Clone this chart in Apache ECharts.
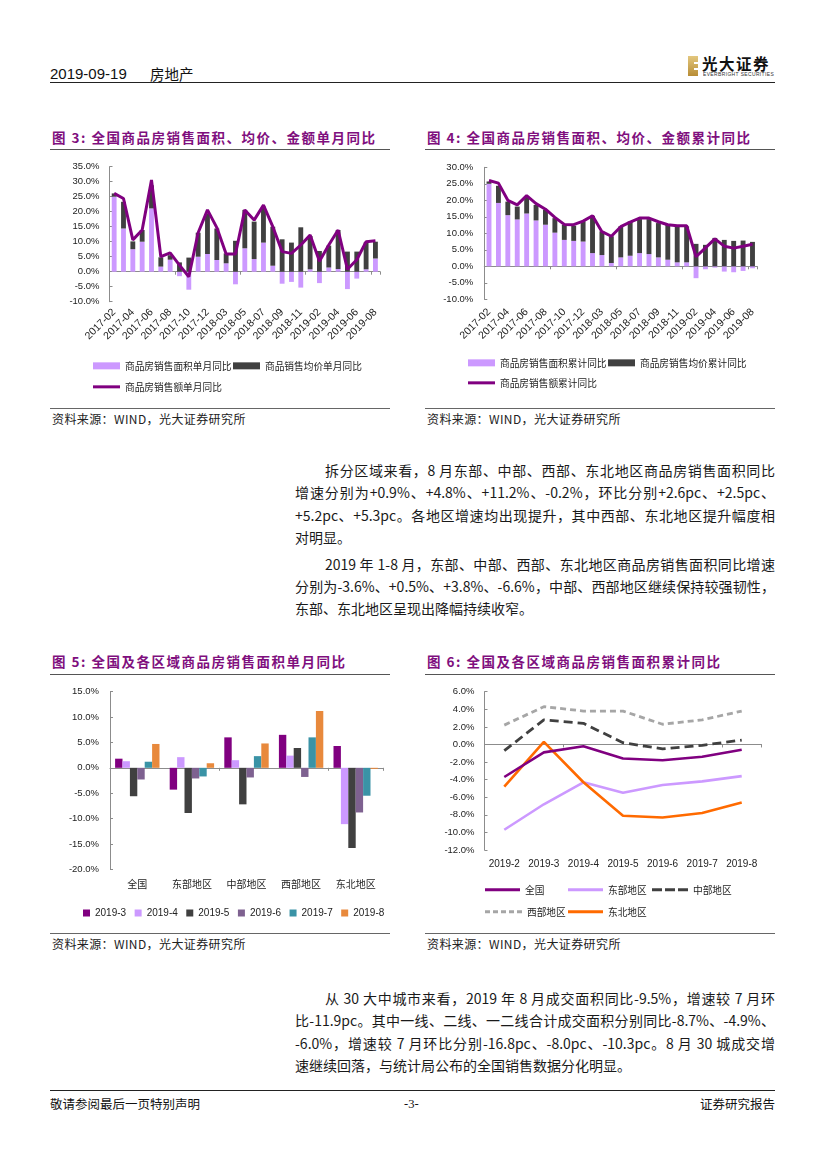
<!DOCTYPE html>
<html><head><meta charset="utf-8">
<script src="https://cdn.jsdelivr.net/npm/echarts@6/dist/echarts.min.js"></script>
<style>
body{margin:0;background:#fff;}
#page{position:relative;width:827px;height:1169px;overflow:hidden;font-family:"Noto Sans CJK SC",sans-serif;color:#111;background:#fff;}
.hl{position:absolute;height:0;}
.title{position:absolute;font-weight:bold;color:#7f0f7e;font-size:13.5px;letter-spacing:1.5px;white-space:nowrap;line-height:18px;}
.src{position:absolute;font-size:12px;color:#222;white-space:nowrap;line-height:16px;letter-spacing:0.4px;}
.ln{position:absolute;left:295px;width:480px;font-size:14px;white-space:nowrap;text-align:justify;text-align-last:justify;line-height:22px;height:22px;color:#1a1a1a;}
.ln.ind{left:325px;width:450px;}
.ln.last{text-align-last:left;}
.chart{position:absolute;}
.txt{position:absolute;white-space:nowrap;}
</style></head>
<body><div id="page">
<!-- header -->
<div class="txt" style="left:50px;top:65px;font-family:'Liberation Sans';font-size:15px;line-height:18px;color:#111;">2019-09-19</div>
<div class="txt" style="left:150px;top:65px;font-size:14.5px;line-height:18px;color:#111;">房地产</div>
<div style="position:absolute;left:688px;top:56px;width:10px;height:20px;background:linear-gradient(180deg,#e3c77e,#b88d36);"></div>
<div style="position:absolute;left:694px;top:62px;width:4px;height:2px;background:#fff;"></div>
<div style="position:absolute;left:694px;top:68px;width:4px;height:2px;background:#fff;"></div>
<div class="txt" style="left:702px;top:54px;font-size:15.5px;font-weight:bold;line-height:18px;letter-spacing:1.5px;color:#111;">光大证券</div>
<div class="txt" style="left:703px;top:72px;font-family:'Liberation Sans';font-size:8px;line-height:8px;transform:scale(0.62);transform-origin:0 0;letter-spacing:0.6px;color:#333;">EVERBRIGHT SECURITIES</div>
<div class="hl" style="left:50px;top:82px;width:725px;border-top:1.6px solid #222;"></div>

<!-- figure titles row 1 -->
<div class="title" style="left:52px;top:128px;">图 3: 全国商品房销售面积、均价、金额单月同比</div>
<div class="title" style="left:427px;top:128px;">图 4: 全国商品房销售面积、均价、金额累计同比</div>
<div class="hl" style="left:50px;top:149px;width:340px;border-top:1.5px solid #555;"></div>
<div class="hl" style="left:425px;top:149px;width:350px;border-top:1.5px solid #555;"></div>
<div id="c3" class="chart" style="left:50px;top:150px;width:340px;height:256px;"></div>
<div id="c4" class="chart" style="left:420px;top:150px;width:380px;height:256px;"></div>
<div class="hl" style="left:50px;top:408px;width:340px;border-top:1px solid #666;"></div>
<div class="hl" style="left:425px;top:408px;width:350px;border-top:1px solid #666;"></div>
<div class="src" style="left:52px;top:411px;">资料来源：WIND，光大证券研究所</div>
<div class="src" style="left:427px;top:411px;">资料来源：WIND，光大证券研究所</div>

<!-- paragraphs -->
<div class="ln ind" style="top:459px;">拆分区域来看，8 月东部、中部、西部、东北地区商品房销售面积同比</div>
<div class="ln" style="top:481px;">增速分别为+0.9%、+4.8%、+11.2%、-0.2%，环比分别+2.6pc、+2.5pc、</div>
<div class="ln" style="top:503.5px;">+5.2pc、+5.3pc。各地区增速均出现提升，其中西部、东北地区提升幅度相</div>
<div class="ln last" style="top:526px;">对明显。</div>
<div class="ln ind" style="top:553px;">2019 年 1-8 月，东部、中部、西部、东北地区商品房销售面积同比增速</div>
<div class="ln" style="top:575px;">分别为-3.6%、+0.5%、+3.8%、-6.6%，中部、西部地区继续保持较强韧性，</div>
<div class="ln last" style="top:596.5px;">东部、东北地区呈现出降幅持续收窄。</div>

<!-- figure titles row 2 -->
<div class="title" style="left:52px;top:652px;">图 5: 全国及各区域商品房销售面积单月同比</div>
<div class="title" style="left:427px;top:652px;">图 6: 全国及各区域商品房销售面积累计同比</div>
<div class="hl" style="left:50px;top:674px;width:340px;border-top:1.5px solid #555;"></div>
<div class="hl" style="left:425px;top:674px;width:350px;border-top:1.5px solid #555;"></div>
<div id="c5" class="chart" style="left:50px;top:675px;width:340px;height:256px;"></div>
<div id="c6" class="chart" style="left:420px;top:675px;width:380px;height:256px;"></div>
<div class="hl" style="left:50px;top:933px;width:340px;border-top:1px solid #666;"></div>
<div class="hl" style="left:425px;top:933px;width:350px;border-top:1px solid #666;"></div>
<div class="src" style="left:52px;top:936px;">资料来源：WIND，光大证券研究所</div>
<div class="src" style="left:427px;top:936px;">资料来源：WIND，光大证券研究所</div>

<div class="ln ind" style="top:987px;">从 30 大中城市来看，2019 年 8 月成交面积同比-9.5%，增速较 7 月环</div>
<div class="ln" style="top:1009px;">比-11.9pc。其中一线、二线、一二线合计成交面积分别同比-8.7%、-4.9%、</div>
<div class="ln" style="top:1032px;">-6.0%，增速较 7 月环比分别-16.8pc、-8.0pc、-10.3pc。8 月 30 城成交增</div>
<div class="ln last" style="top:1054px;">速继续回落，与统计局公布的全国销售数据分化明显。</div>

<!-- footer -->
<div class="hl" style="left:50px;top:1090px;width:725px;border-top:1.2px solid #222;"></div>
<div class="txt" style="left:50px;top:1096px;font-size:12.5px;line-height:16px;color:#111;">敬请参阅最后一页特别声明</div>
<div class="txt" style="left:404px;top:1096px;font-family:'Liberation Serif';font-size:12.5px;line-height:16px;color:#111;">-3-</div>
<div class="txt" style="left:700px;top:1096px;font-size:12.5px;line-height:16px;color:#111;">证券研究报告</div>
</div>
<script>
// ---------- data ----------
const monthCats = ['2017-02','2017-03','2017-04','2017-05','2017-06','2017-07','2017-08','2017-09','2017-10','2017-11','2017-12',
  '2018-02','2018-03','2018-04','2018-05','2018-06','2018-07','2018-08','2018-09','2018-10','2018-11','2018-12',
  '2019-02','2019-03','2019-04','2019-05','2019-06','2019-07','2019-08'];
// Fig 3: monthly YoY (%)
const areaMonthly   = [25.0,14.4,7.5,10.0,21.1,1.7,4.0,-1.5,-6.0,5.0,5.9,3.9,2.8,-4.2,7.8,4.2,9.7,2.0,-4.0,-3.4,-5.3,0.8,-3.8,1.4,0.9,-5.8,-2.3,0.8,4.4];
const priceMonthly  = [1.1,8.9,2.6,3.9,7.7,3.1,1.5,3.1,4.7,8.0,13.5,10.5,3.3,10.3,12.8,12.5,12.0,13.0,10.8,9.7,14.8,11.1,6.9,7.3,13.0,6.7,6.7,9.0,5.6];
const amountMonthly = [26.1,24.4,10.6,13.9,30.6,5.0,6.3,2.2,-1.7,13.0,20.6,14.7,5.9,5.9,20.6,17.2,22.2,15.0,6.7,6.1,8.9,12.2,3.5,8.9,13.9,0.8,4.0,10.0,10.3];
// Fig 4: cumulative YoY (%)
const areaCum   = [25.0,19.2,15.5,14.2,16.0,13.9,12.6,10.2,8.0,7.7,7.5,4.0,3.4,1.0,2.7,3.2,4.0,3.7,2.7,2.0,1.2,1.2,-3.6,-0.9,-0.4,-1.6,-1.8,-1.4,-0.6];
const priceCum  = [0.7,5.2,4.1,3.9,5.1,4.7,4.5,4.4,4.6,4.6,6.1,11.3,7.2,8.1,9.4,10.4,10.3,10.6,10.4,10.6,10.9,10.9,6.8,6.5,8.6,8.0,7.7,7.8,7.4];
const amountCum = [26.0,25.2,20.0,18.6,21.4,19.0,17.3,14.8,12.7,12.6,13.7,15.3,10.5,9.1,12.0,13.4,14.6,14.6,13.5,12.6,12.3,12.3,2.9,5.6,8.3,6.1,5.5,6.1,6.7];
// Fig 5: regional monthly YoY (%)
const regions = ['全国','东部地区','中部地区','西部地区','东北地区'];
const fig5Months = ['2019-3','2019-4','2019-5','2019-6','2019-7','2019-8'];
const fig5Values = [
  [1.8,-4.3,6.0,6.5,4.3],
  [1.3,2.1,1.5,2.4,-11.1],
  [-5.6,-8.9,-7.2,3.9,-15.8],
  [-2.3,-2.1,-1.9,-1.8,-8.8],
  [1.2,-1.7,2.3,6.0,-5.5],
  [4.7,0.9,4.8,11.2,-0.2]
];
// Fig 6: regional cumulative YoY (%)
const fig6Months = ['2019-2','2019-3','2019-4','2019-5','2019-6','2019-7','2019-8'];
const natCum   = [-3.7,-0.9,-0.2,-1.6,-1.8,-1.4,-0.6];
const eastCum  = [-9.7,-6.8,-4.3,-5.5,-4.6,-4.2,-3.6];
const midCum   = [-0.7,2.8,2.4,0.2,-0.5,-0.1,0.5];
const westCum  = [2.2,4.3,3.8,3.8,2.3,2.8,3.8];
const neCum    = [-4.8,0.3,-4.3,-8.1,-8.3,-7.8,-6.6];

// ---------- styles ----------
const AX = '#8c8c8c';
const LBL = '#222';
const PURPLE = '#800080', LILAC = '#CC99FF', DARK = '#404040';
const fig5Colors = ['#800080','#CC99FF','#404040','#7e6190','#3a93a6','#e8893c'];

function yAx(min,max,interval,fs,margin){
  return {type:'value',min,max,interval,
    axisLine:{show:true,lineStyle:{color:AX,width:1}},
    axisTick:{show:true,inside:true,length:3,lineStyle:{color:AX}},
    splitLine:{show:false},
    axisLabel:{formatter:v=>v.toFixed(1)+'%',color:LBL,fontFamily:'Liberation Sans',fontSize:fs,margin:margin}};
}
function xAxes(cats,label){
  return [
    {type:'category',data:cats,position:'bottom',axisLine:{show:false,onZero:false},axisTick:{show:false},axisLabel:label},
    {type:'category',data:cats,axisLine:{show:true,onZero:true,lineStyle:{color:AX,width:1}},
     axisTick:{show:true,inside:true,length:3,lineStyle:{color:AX}},axisLabel:{show:false}}
  ];
}
function leg(name,left,top,w,h,icon){
  return {data:[{name:name,icon:icon}],left:left,top:top,padding:0,itemWidth:w,itemHeight:h,selectedMode:false,
    itemStyle:{borderWidth:0},textStyle:{fontFamily:'Noto Sans CJK SC',fontSize:9.7,color:LBL}};
}

// ---------- Fig 3 ----------
const c3 = echarts.init(document.getElementById('c3'));
c3.setOption({
  animation:false,
  grid:{left:59.5,top:16.7,width:270.6,height:135},
  xAxis:xAxes(monthCats,{interval:1,rotate:45,fontFamily:'Liberation Sans',fontSize:10.5,color:LBL,margin:9}),
  yAxis:yAx(-10,35,5,9.5,10),
  legend:[
    leg('商品房销售面积单月同比',43,211,27,7,'rect'),
    leg('商品销售均价单月同比',183,211,27,7,'rect'),
    leg('商品房销售额单月同比',43,232,27,3,'rect')
  ],
  series:[
    {name:'商品房销售面积单月同比',type:'bar',stack:'s',data:areaMonthly,barWidth:'52%',itemStyle:{color:LILAC}},
    {name:'商品销售均价单月同比',type:'bar',stack:'s',data:priceMonthly,barWidth:'52%',itemStyle:{color:DARK}},
    {name:'商品房销售额单月同比',type:'line',data:amountMonthly,symbol:'none',lineStyle:{color:PURPLE,width:3},itemStyle:{color:PURPLE},z:5}
  ]
});

// ---------- Fig 4 ----------
const c4 = echarts.init(document.getElementById('c4'));
c4.setOption({
  animation:false,
  grid:{left:64.3,top:17.3,width:272.9,height:132},
  xAxis:xAxes(monthCats,{interval:1,rotate:45,fontFamily:'Liberation Sans',fontSize:10.5,color:LBL,margin:11}),
  yAxis:yAx(-10,30,5,9.5,11),
  legend:[
    leg('商品房销售面积累计同比',48,208,27,7,'rect'),
    leg('商品房销售均价累计同比',188,208,27,7,'rect'),
    leg('商品房销售额累计同比',48,228,27,3,'rect')
  ],
  series:[
    {name:'商品房销售面积累计同比',type:'bar',stack:'s',data:areaCum,barWidth:'52%',itemStyle:{color:LILAC}},
    {name:'商品房销售均价累计同比',type:'bar',stack:'s',data:priceCum,barWidth:'52%',itemStyle:{color:DARK}},
    {name:'商品房销售额累计同比',type:'line',data:amountCum,symbol:'none',lineStyle:{color:PURPLE,width:3},itemStyle:{color:PURPLE},z:5}
  ]
});

// ---------- Fig 5 ----------
const c5 = echarts.init(document.getElementById('c5'));
c5.setOption({
  animation:false,
  grid:{left:60,top:16.7,width:273,height:177.6},
  xAxis:xAxes(regions,{interval:0,fontFamily:'Noto Sans CJK SC',fontSize:10,color:LBL,margin:10}),
  yAxis:yAx(-20,15,5,9.5,11),
  legend:{data:fig5Months.map(m=>({name:m,icon:'rect'})),left:33,top:233,padding:0,itemWidth:7,itemHeight:7,itemGap:8.5,
    selectedMode:false,itemStyle:{borderWidth:0},textStyle:{fontFamily:'Liberation Sans',fontSize:10,color:LBL}},
  series:fig5Months.map((m,i)=>({name:m,type:'bar',data:fig5Values[i],barWidth:7.4,barGap:'0%',itemStyle:{color:fig5Colors[i]}}))
});

// ---------- Fig 6 ----------
const DASH_MID = 'path://M0,0H10V3H0Z M13,0H23V3H13Z M26,0H36V3H26Z';
const DASH_WEST = 'path://M0,0H5V3H0Z M8,0H13V3H8Z M16,0H21V3H16Z M24,0H29V3H24Z M32,0H37V3H32Z';
const c6 = echarts.init(document.getElementById('c6'));
c6.setOption({
  animation:false,
  grid:{left:64.5,top:16.7,width:277,height:158.3},
  xAxis:xAxes(fig6Months,{interval:0,fontFamily:'Liberation Sans',fontSize:10,color:LBL,margin:9}),
  yAxis:yAx(-12,6,2,9.5,10),
  legend:[
    leg('全国',65,210,35,3,'rect'),
    leg('东部地区',148,210,35,3,'rect'),
    leg('中部地区',232,210,36,3,DASH_MID),
    leg('西部地区',65,232,37,3,DASH_WEST),
    leg('东北地区',148,232,35,3,'rect')
  ],
  series:[
    {name:'全国',type:'line',data:natCum,symbol:'none',lineStyle:{color:'#800080',width:2.6},itemStyle:{color:'#800080'},z:5},
    {name:'东部地区',type:'line',data:eastCum,symbol:'none',lineStyle:{color:'#CC99FF',width:2.6},itemStyle:{color:'#CC99FF'}},
    {name:'中部地区',type:'line',data:midCum,symbol:'none',lineStyle:{color:'#404040',width:2.8,type:[9,5]},itemStyle:{color:'#404040'}},
    {name:'西部地区',type:'line',data:westCum,symbol:'none',lineStyle:{color:'#a6a6a6',width:2.8,type:[6,4]},itemStyle:{color:'#a6a6a6'}},
    {name:'东北地区',type:'line',data:neCum,symbol:'none',lineStyle:{color:'#ff6a00',width:2.6},itemStyle:{color:'#ff6a00'},z:4}
  ]
});
</script>
</body></html>
